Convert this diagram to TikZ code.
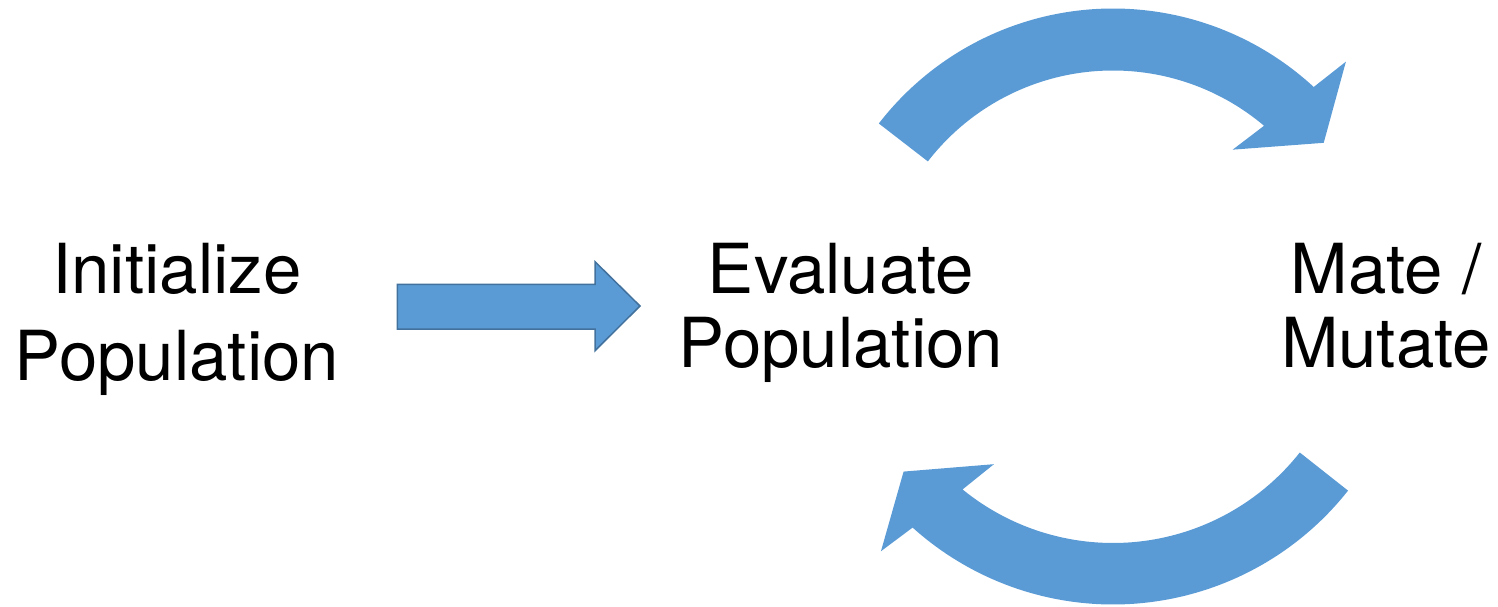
\documentclass[tikz,border=0pt]{standalone}
\usepackage{fontspec}
\setmainfont{TeX Gyre Heros}
\definecolor{flowblue}{RGB}{91,155,213}
\definecolor{flowedge}{RGB}{65,113,156}
\begin{document}
\begin{tikzpicture}[x=1pt,y=1pt,
  steplabel/.style={align=center, inner sep=0pt, anchor=base},
  tightlines/.style={font=\fontsize{69}{74}\selectfont},
  looselines/.style={font=\fontsize{69}{87}\selectfont},
  looparrow/.style={fill=flowblue, draw=none},
  blockarrow/.style={fill=flowblue, draw=flowedge, line width=1.5pt, line join=miter}]
\useasboundingbox (0,0) rectangle (1498,606);

% stage labels (base anchor sits on the last line)
\node[steplabel, looselines] (init) at (177,226) {Initialize\\Population};
\node[steplabel, tightlines] (eval) at (841,239) {Evaluate\\Population};
\node[steplabel, tightlines] (mate) at (1386,239) {Mate /\\Mutate};

% block arrow from initialisation to evaluation
\coordinate (shaftstart) at (397.3,299.3);
\coordinate (tip) at (640,300);
\draw[blockarrow] (shaftstart |- 0,321.7) -- (595,321.7) -- (595,344.3) -- (tip)
  -- (595,255.3) -- (595,277) -- (shaftstart |- 0,277) -- cycle;

% the evaluate / mate loop
\coordinate (loopc) at (1113,301.5);
\begin{scope}[shift={(loopc)}]
  \fill[looparrow] (142.3:234pt) -- (142.3:296pt)
    arc[start angle=142.3, end angle=47.3, radius=296pt]
    -- (46.2:336.5pt) -- (37.5:265.6pt) -- (52.3:195.7pt) -- (49.8:234pt)
    arc[start angle=49.8, end angle=142.3, radius=234pt] -- cycle;
\end{scope}
\begin{scope}[shift={(loopc)}, yshift=-0.5pt]
  \fill[looparrow] (-38.3:238pt) -- (-38.3:299.5pt)
    arc[start angle=-38.3, end angle=-132, radius=299.5pt]
    -- (-133.3:338.4pt) -- (-141.5:267.6pt) -- (-126.8:198.8pt) -- (-129.2:238pt)
    arc[start angle=-129.2, end angle=-38.3, radius=238pt] -- cycle;
\end{scope}
\end{tikzpicture}
\end{document}
